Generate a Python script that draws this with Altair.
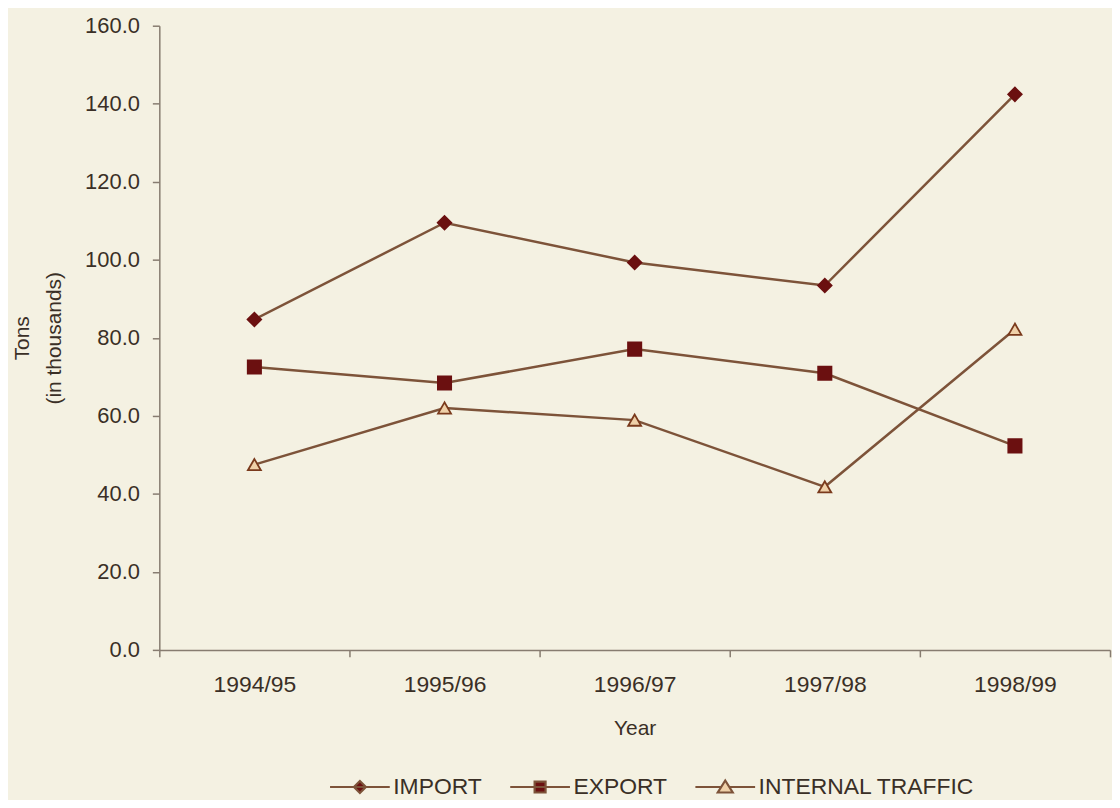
import altair as alt
import pandas as pd

years = ["1994/95", "1995/96", "1996/97", "1997/98", "1998/99"]
series = ["IMPORT", "EXPORT", "INTERNAL TRAFFIC"]
import_vals = [84.7, 109.5, 99.3, 93.4, 142.4]
export_vals = [72.5, 68.4, 77.1, 70.9, 52.3]
traffic_vals = [47.5, 62.0, 58.9, 41.8, 82.2]
y_ticks = [0, 20, 40, 60, 80, 100, 120, 140, 160]

rows = []
for s, vals in zip(series, [import_vals, export_vals, traffic_vals]):
    for yr, v in zip(years, vals):
        rows.append({"Year": yr, "Series": s, "Value": v})
df = pd.DataFrame(rows)

FONT = "Liberation Sans"
BG = "#f4f1e2"
LINE = "#7d5339"
DARK = "#6b1010"
LIGHT = "#efd0a8"
TRI = "#7a3a1c"
AXIS = "#877c70"
TEXT = "#3a2f26"

# legend symbols: line segment with the marker in the middle
P_IMP = "M-3,0H3M0,-0.6L0.6,0L0,0.6L-0.6,0Z"
P_EXP = "M-3,0H3M-0.55,-0.55H0.55V0.55H-0.55Z"
P_TRA = "M-3,0H-0.42M0.42,0H3M0,-0.65L0.75,0.55H-0.75Z"

x = alt.X(
    "Year:N",
    sort=years,
    bandPosition=0.5,
    scale=alt.Scale(type="band", paddingInner=0, paddingOuter=0),
    axis=alt.Axis(
        title="Year",
        labelAngle=0,
        tickBand="extent",
        tickSize=7,
        labelFontSize=23,
        labelPadding=17,
        titlePadding=21,
    ),
)
y = alt.Y(
    "Value:Q",
    scale=alt.Scale(domain=[0, 160], nice=False, zero=True),
    axis=alt.Axis(
        values=y_ticks,
        format=".1f",
        title=["Tons", "(in thousands)"],
        tickSize=7,
        labelFontSize=22,
        labelPadding=13,
        titlePadding=20,
        titleLineHeight=32,
        grid=False,
    ),
)

lines = alt.Chart(df).mark_line(color=LINE, strokeWidth=2.5).encode(
    x=x, y=y, detail="Series:N"
)

points = alt.Chart(df).mark_point(opacity=1, strokeWidth=1.8).encode(
    x=x,
    y=y,
    shape=alt.Shape(
        "Series:N",
        scale=alt.Scale(domain=series, range=["diamond", "square", "triangle-up"]),
        legend=None,
    ),
    fill=alt.Fill(
        "Series:N",
        scale=alt.Scale(domain=series, range=[DARK, DARK, LIGHT]),
        legend=None,
    ),
    stroke=alt.Stroke(
        "Series:N",
        scale=alt.Scale(domain=series, range=[DARK, DARK, TRI]),
        legend=None,
    ),
    size=alt.Size(
        "Series:O",
        scale=alt.Scale(domain=series, range=[185, 170, 240]),
        legend=None,
    ),
)

leg = dict(
    title=None,
    orient="none",
    direction="horizontal",
    legendX=190,
    legendY=753,
    symbolSize=400,
    symbolStrokeWidth=2.2,
    symbolOpacity=1,
    columnPadding=23,
    labelOffset=22,
    labelFontSize=23,
    labelFont=FONT,
    labelColor=TEXT,
    labelLimit=600,
)

legend_layer = (
    alt.Chart(df)
    .transform_filter("false")
    .mark_point(opacity=1, strokeWidth=2)
    .encode(
        x=x,
        y=y,
        shape=alt.Shape(
            "Series:N",
            scale=alt.Scale(domain=series, range=[P_IMP, P_EXP, P_TRA]),
            legend=alt.Legend(**leg),
        ),
        fill=alt.Fill(
            "Series:N",
            scale=alt.Scale(domain=series, range=[DARK, DARK, LIGHT]),
            legend=alt.Legend(**leg),
        ),
        stroke=alt.value(LINE),
    )
)

chart = (
    alt.layer(lines, points, legend_layer)
    .resolve_scale(shape="independent", fill="independent")
    .properties(
        width=955,
        height=627,
        padding={"left": 152, "top": 16, "right": 2, "bottom": 149},
        autosize=alt.AutoSizeParams(type="none"),
        background=BG,
    )
    .configure_view(stroke=None)
    .configure_axis(
        labelFont=FONT,
        titleFont=FONT,
        titleFontSize=21,
        titleFontWeight="normal",
        labelColor=TEXT,
        titleColor=TEXT,
        domainColor=AXIS,
        domainWidth=1.5,
        tickColor=AXIS,
        tickWidth=1.5,
    )
)

chart.save("out.html", embed_options={"renderer": "svg", "actions": False})
